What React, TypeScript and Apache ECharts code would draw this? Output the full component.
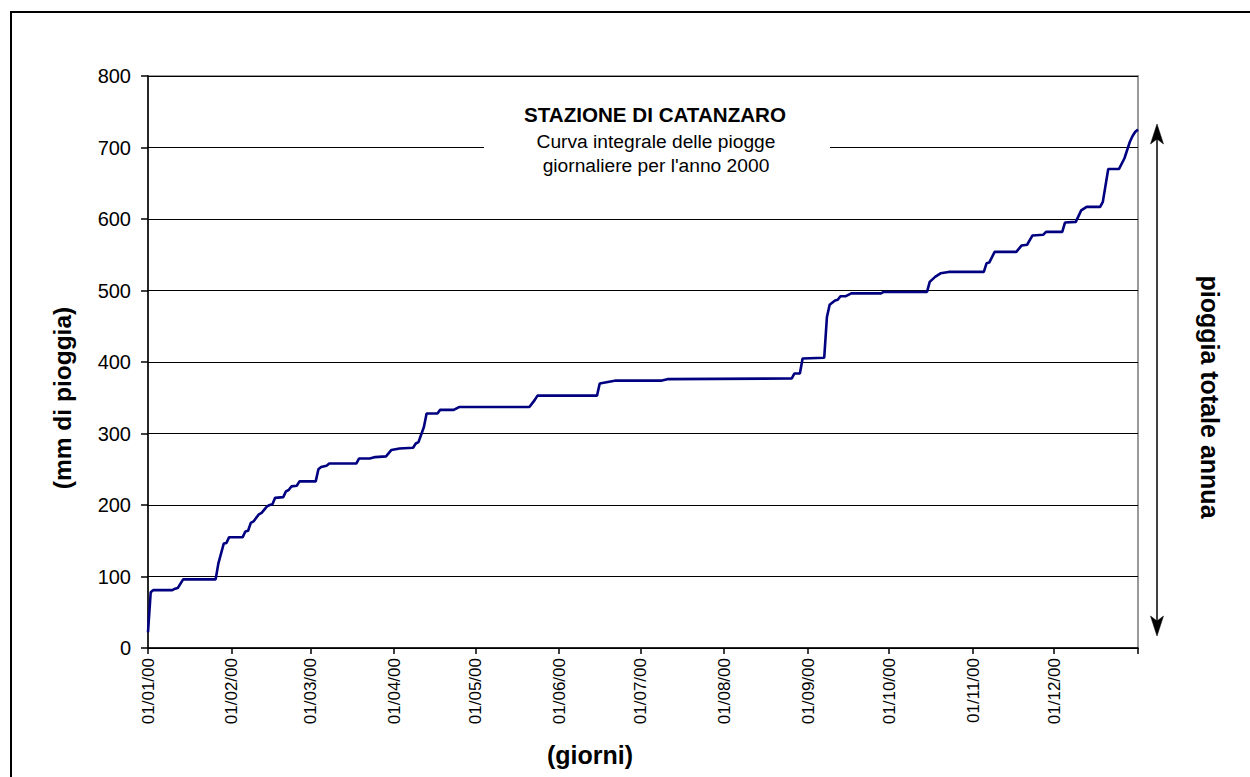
import React, { useEffect, useRef } from "react";
import * as echarts from "echarts";

// Day index (0 = 01/01/2000) and cumulative rainfall (mm) at breakpoints
const days = [
  0, 1, 2, 9, 10, 11, 13, 25, 26, 28, 29, 30, 35, 36, 37, 38, 39, 41, 42, 44, 45, 46, 47, 50, 51, 52, 53, 55, 56,
  62, 63, 64, 66, 67, 77, 78, 82, 84, 88, 90, 93, 98, 99, 100, 102, 103, 107, 108, 113, 115, 141, 143, 144, 166,
  167, 170, 173, 190, 192, 238, 239, 241, 242, 250, 251, 252, 254, 255, 256, 258, 260, 271, 272, 288, 289, 291,
  293, 296, 309, 310, 311, 313, 321, 323, 325, 327, 331, 332, 338, 339, 343, 345, 347, 352, 353, 355, 359, 361,
  363, 364, 365, 366,
];
const rain = [
  22, 78, 81, 81, 83, 84, 96, 96, 118, 146, 147, 155, 155, 163, 164, 175, 177, 187, 189, 198, 200, 201, 210, 211,
  219, 221, 226, 227, 233, 233, 250, 253, 255, 258, 258, 265, 265, 267, 268, 277, 279, 280, 286, 288, 309, 328,
  328, 333, 333, 337, 337, 347, 353, 353, 370, 372, 374, 374, 376, 377, 384, 384, 405, 406, 463, 480, 486, 487,
  492, 492, 496, 496, 498, 498, 512, 519, 524, 526, 526, 538, 539, 554, 554, 563, 564, 577, 578, 582, 582, 595,
  596, 612, 617, 617, 624, 670, 670, 685, 708, 716, 722, 725,
];

const monthStartDays = [0, 31, 60, 91, 121, 152, 182, 213, 244, 274, 305, 335, 366];
const monthLabels = [
  "01/01/00", "01/02/00", "01/03/00", "01/04/00", "01/05/00", "01/06/00",
  "01/07/00", "01/08/00", "01/09/00", "01/10/00", "01/11/00", "01/12/00",
];

const yTicks = [0, 100, 200, 300, 400, 500, 600, 700, 800];

const titleLines = ["STAZIONE DI CATANZARO", "Curva integrale delle piogge", "giornaliere per l'anno 2000"];
const xTitle = "(giorni)";
const yTitle = "(mm di pioggia)";
const rightTitle = "pioggia totale annua";

const FONT = "'Liberation Sans', Arial, sans-serif";

export default function App() {
  const ref = useRef<HTMLDivElement>(null);

  useEffect(() => {
    if (!ref.current) return;
    const chart = echarts.init(ref.current, undefined, { renderer: "svg" });
    const data = days.map((d, i) => [d, rain[i]]);

    const txt = (text: string, x: number, y: number, size: number, bold: boolean, rotation = 0) => ({
      type: "text",
      x,
      y,
      rotation,
      z: 100,
      style: {
        text,
        fontFamily: FONT,
        fontSize: size,
        fontWeight: bold ? "bold" : "normal",
        fill: "#000",
        align: "center",
        verticalAlign: "middle",
        textAlign: "center",
        textVerticalAlign: "middle",
      },
    });

    chart.setOption({
      animation: false,
      backgroundColor: "#fff",
      textStyle: { fontFamily: FONT },
      grid: {
        left: 148,
        top: 76,
        right: 112,
        bottom: 129,
        show: true,
        borderColor: "#9a9a9a",
        borderWidth: 2,
        backgroundColor: "transparent",
      },
      xAxis: {
        type: "value",
        min: 0,
        max: 366,
        axisLine: { show: true, lineStyle: { color: "#000", width: 1.5 } },
        axisTick: {
          show: true,
          inside: false,
          length: 6,
          customValues: monthStartDays,
          lineStyle: { color: "#000", width: 1.5 },
        },
        axisLabel: {
          show: true,
          rotate: 90,
          margin: 10,
          fontSize: 17,
          color: "#000",
          fontFamily: FONT,
          customValues: monthStartDays.slice(0, 12),
          formatter: (v: number) => {
            const i = monthStartDays.indexOf(Math.round(v));
            return i >= 0 && i < monthLabels.length ? monthLabels[i] : "";
          },
        },
        splitLine: { show: false },
      },
      yAxis: {
        type: "value",
        min: 0,
        max: 800,
        interval: 100,
        axisLine: { show: true, lineStyle: { color: "#000", width: 1.5 } },
        axisTick: { show: true, inside: false, length: 7, lineStyle: { color: "#000", width: 1.5 } },
        axisLabel: {
          show: true,
          margin: 17,
          fontSize: 20,
          color: "#000",
          fontFamily: FONT,
          formatter: (v: number) => (yTicks.indexOf(v) >= 0 ? String(v) : ""),
        },
        splitLine: { show: true, lineStyle: { color: "#000", width: 1 } },
      },
      series: [
        {
          type: "line",
          data,
          showSymbol: false,
          symbol: "none",
          lineStyle: { color: "#000080", width: 2.6 },
          z: 5,
        },
      ],
      graphic: {
        elements: [
          {
            type: "rect",
            z: 1,
            shape: { x: 11, y: 12, width: 1260, height: 800 },
            style: { fill: "none", stroke: "#000", lineWidth: 2 },
          },
          {
            type: "rect",
            z: 90,
            shape: { x: 484, y: 95, width: 346, height: 88 },
            style: { fill: "#fff", stroke: "none" },
          },
          txt(titleLines[0], 655, 114, 20.6, true),
          txt(titleLines[1], 656, 141, 19.2, false),
          txt(titleLines[2], 656, 165.5, 19.2, false),
          txt(xTitle, 590, 755, 25, true),
          txt(yTitle, 62, 398, 24.5, true, Math.PI / 2),
          txt(rightTitle, 1210, 397, 25, true, -Math.PI / 2),
          {
            type: "line",
            z: 100,
            shape: { x1: 1157, y1: 139, x2: 1157, y2: 621 },
            style: { stroke: "#000", lineWidth: 1.5 },
          },
          {
            type: "polygon",
            z: 100,
            shape: { points: [[1157, 124], [1163.5, 144], [1157, 139], [1150.5, 144]] },
            style: { fill: "#000", stroke: "#000", lineWidth: 0.5 },
          },
          {
            type: "polygon",
            z: 100,
            shape: { points: [[1157, 636], [1163.5, 616], [1157, 621], [1150.5, 616]] },
            style: { fill: "#000", stroke: "#000", lineWidth: 0.5 },
          },
        ],
      },
    });

    return () => chart.dispose();
  }, []);

  return (
    <div
      ref={ref}
      style={{ position: "fixed", left: 0, top: 0, width: 1250, height: 777, background: "#fff" }}
    />
  );
}
